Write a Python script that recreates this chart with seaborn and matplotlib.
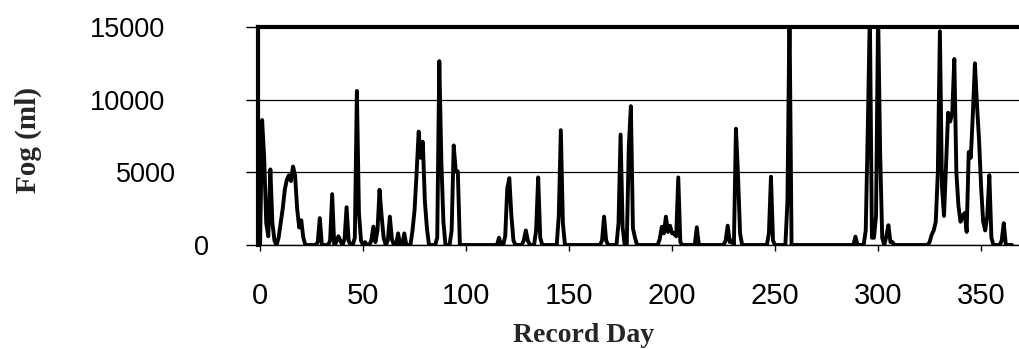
import numpy as np
import pandas as pd
import matplotlib
matplotlib.use("Agg")
import matplotlib.pyplot as plt
import seaborn as sns

# ---- data ----
event_days = [1, 2, 3, 4, 5, 6, 7, 9, 10, 11, 12, 13, 14, 15, 16, 17, 18, 19, 20, 21,
              28, 29, 34, 35, 37, 38, 39, 41, 42, 43, 46, 47, 48, 49, 51,
              54, 55, 56, 57, 58, 59, 60, 62, 63, 64, 67, 70,
              74, 75, 76, 77, 78, 79, 80, 81, 86, 87, 88, 89, 93, 94, 95, 96,
              116, 119, 120, 121, 122, 123, 128, 129, 130, 134, 135, 136,
              145, 146, 147, 166, 167, 168, 174, 175, 176, 179, 180, 181, 182,
              194, 195, 196, 197, 198, 199, 200, 201, 202, 203, 204, 212,
              226, 227, 228, 229, 231, 232, 233, 247, 248, 249, 256, 257,
              289, 294, 295, 296, 297, 298, 299, 300, 301, 302, 304, 305, 306, 307,
              325, 326, 327, 328, 329, 330, 331, 332, 333, 334, 335, 336, 337, 338,
              339, 340, 341, 342, 343, 344, 345, 346, 347, 348, 349, 350, 351, 352,
              353, 354, 355, 360, 361]
event_ml = [8600, 6000, 1500, 600, 5200, 1500, 300, 500, 1500, 2500, 3800, 4500, 4800, 4400,
            5400, 4800, 2500, 1200, 1700, 500,
            200, 1850, 300, 3500, 200, 600, 300, 400, 2600, 300, 500, 10600, 2200, 300, 200,
            300, 1265, 200, 1000, 3800, 2000, 500, 300, 1950, 400, 800, 800,
            1000, 2400, 5000, 7800, 6000, 7100, 3000, 1150, 500, 12650, 5750, 1600, 1000,
            6850, 5060, 5060,
            500, 600, 3900, 4600, 2000, 300, 300, 1000, 300, 1000, 4650, 500,
            2000, 7900, 1500, 300, 1950, 300, 1500, 7600, 1200, 6800, 9550, 1150, 500,
            400, 1250, 800, 1950, 900, 1330, 800, 800, 600, 4650, 200, 1220,
            300, 1330, 200, 300, 8000, 4800, 800, 800, 4700, 300, 3000, 16000,
            575, 1000, 8000, 16000, 500, 500, 2000, 16000, 6300, 500, 600, 1360, 200, 200,
            200, 700, 1000, 1600, 5000, 14700, 4000, 2000, 5500, 9100, 8500, 9100, 12800, 5000,
            2700, 1600, 2000, 2200, 900, 6400, 6000, 9000, 12500, 9650, 7250, 4000, 1600, 1000,
            2000, 4800, 500, 300, 1500]

record_day = np.arange(0, 366)
fog = np.zeros(len(record_day))
fog[event_days] = event_ml

x_ticks = [0, 50, 100, 150, 200, 250, 300, 350]
y_ticks = [0, 5000, 10000, 15000]
y_tick_labels = ["0", "5000", "10000", "15000"]

df = pd.DataFrame({"Record Day": record_day, "Fog (ml)": fog})

sns.set_theme(style="white")
plt.rcParams["font.family"] = ["Liberation Sans", "DejaVu Sans"]

W, H = 1019, 349
fig = plt.figure(figsize=(W / 100, H / 100), dpi=100)
ax = fig.add_axes([258 / W, 104 / H, 761 / W, 218 / H])

sns.lineplot(data=df, x="Record Day", y="Fog (ml)", color="black", linewidth=2.8, ax=ax)

ax.set_xlim(-1, 368.4)
ax.set_ylim(0, 15000)

ax.set_yticks(y_ticks)
ax.set_yticklabels(y_tick_labels, fontsize=19.5, color="black")
ax.set_xticks(x_ticks)
ax.set_xticklabels([str(t) for t in x_ticks], fontsize=21, color="black")

ax.tick_params(axis="y", direction="out", length=9, width=1, color="black", left=True)
ax.tick_params(axis="x", direction="out", length=4, width=1, color="black", bottom=True, pad=23)
pads = {"0": 26, "5000": 50, "10000": 57.6, "15000": 57.6}
for tick, lab in zip(ax.yaxis.get_major_ticks(), y_tick_labels):
    tick.set_pad(pads[lab])

ax.yaxis.grid(True, color="black", linewidth=0.9)
ax.xaxis.grid(False)
ax.set_axisbelow(True)

for side in ["top", "left"]:
    ax.spines[side].set_visible(True)
    ax.spines[side].set_linewidth(3)
    ax.spines[side].set_color("black")
ax.spines["bottom"].set_linewidth(1)
ax.spines["bottom"].set_color("black")
ax.spines["right"].set_visible(False)

ax.set_ylabel("Fog (ml)", fontfamily="Liberation Serif", fontweight="bold", fontsize=21)
ax.yaxis.label.set_va("center")
ax.yaxis.set_label_coords(-0.302, 0.48)
ax.set_xlabel("Record Day", fontfamily="Liberation Serif", fontweight="bold", fontsize=20)
ax.xaxis.label.set_va("center")
ax.xaxis.set_label_coords(0.428, -0.417)

fig.savefig("out.png", dpi=100, facecolor="white")
